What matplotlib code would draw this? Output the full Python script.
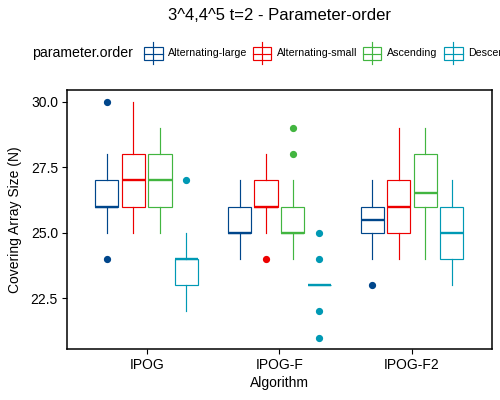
import matplotlib
matplotlib.use('Agg')

import matplotlib.pyplot as plt
from matplotlib.lines import Line2D
from matplotlib.patches import Rectangle

plt.rcParams['font.family'] = ['Liberation Sans', 'DejaVu Sans']

# ================================================================
# DATA (box summaries)
# ================================================================
algorithms = ['IPOG', 'IPOG-F', 'IPOG-F2']
orders = ['Alternating-large', 'Alternating-small', 'Ascending', 'Descending']
colors = ['#00468B', '#ED0000', '#42B540', '#0099B4']

# one row per parameter order, one value per algorithm
whisker_low = [[25, 24, 24], [25, 25, 24], [25, 24, 24], [22, 23, 23]]
q1 = [[26, 25, 25], [26, 26, 25], [26, 25, 26], [23, 23, 24]]
median = [[26, 25, 25.5], [27, 26, 26], [27, 25, 26.5], [24, 23, 25]]
q3 = [[27, 26, 26], [28, 27, 27], [28, 26, 28], [24, 23, 26]]
whisker_high = [[28, 27, 27], [30, 28, 29], [29, 27, 29], [25, 23, 27]]
outliers = [
    [[30, 24], [], [23]],
    [[], [24], []],
    [[], [28, 29], []],
    [[27], [21, 22, 24, 25], []],
]

y_ticks = [22.5, 25.0, 27.5, 30.0]

# ================================================================
# PLOT
# ================================================================
W, H = 500, 400
fig = plt.figure(figsize=(5, 4), dpi=100)
ax = fig.add_axes([67 / W, 1 - 349.3 / H, 424.7 / W, 259.3 / H])

dodge = 0.2
box_w = 0.175
for k, (order, c) in enumerate(zip(orders, colors)):
    stats = []
    for i in range(len(algorithms)):
        stats.append(dict(whislo=whisker_low[k][i], q1=q1[k][i], med=median[k][i],
                          q3=q3[k][i], whishi=whisker_high[k][i],
                          fliers=outliers[k][i]))
    pos = [i + 1 + (k - 1.5) * dodge for i in range(len(algorithms))]
    ax.bxp(stats, positions=pos, widths=box_w, patch_artist=True, showcaps=False,
           manage_ticks=False,
           boxprops=dict(facecolor='white', edgecolor=c, linewidth=0.85),
           medianprops=dict(color=c, linewidth=1.7, solid_capstyle='butt'),
           whiskerprops=dict(color=c, linewidth=0.85),
           flierprops=dict(marker='o', markerfacecolor=c, markeredgecolor=c,
                           markersize=4.2, linestyle='none'))

ax.set_xlim(0.4, 3.6)
ax.set_ylim(20.55, 30.45)
ax.set_xticks(range(1, len(algorithms) + 1))
ax.set_xticklabels(algorithms)
ax.set_yticks(y_ticks)
ax.set_yticklabels([f'{v:.1f}' for v in y_ticks])
ax.tick_params(labelsize=10, length=3.6, width=0.8, pad=2.9, colors='black')
for s in ax.spines.values():
    s.set_color('black')
    s.set_linewidth(1.1)

ax.set_xlabel('Algorithm', fontsize=10)
ax.set_ylabel('Covering Array Size (N)', fontsize=10)
ax.xaxis.label.set_va('center')
ax.yaxis.label.set_va('center')
ax.xaxis.set_label_coords(0.5, -0.130)
ax.yaxis.set_label_coords(-0.122, 0.5)

fig.text(279 / W, 1 - 15 / H, '3^4,4^5 t=2 - Parameter-order', fontsize=12,
         ha='center', va='center')

# legend along the top, boxplot glyphs drawn by hand
ly = 53.5
fig.text(32 / W, 1 - ly / H, 'parameter.order', fontsize=10.2, ha='left', va='center')
key_x = [144, 252.7, 362.7, 444]
for kx, order, c in zip(key_x, orders, colors):
    kw = 18.7
    fig.add_artist(Line2D([(kx + kw / 2) / W] * 2, [1 - 42 / H, 1 - 64 / H],
                          transform=fig.transFigure, color=c, lw=0.85))
    fig.add_artist(Rectangle((kx / W, 1 - 60 / H), kw / W, 13 / H,
                             transform=fig.transFigure, facecolor='white',
                             edgecolor=c, lw=0.85))
    fig.add_artist(Line2D([kx / W, (kx + kw) / W], [1 - ly / H] * 2,
                          transform=fig.transFigure, color=c, lw=0.85))
    fig.text((kx + kw + 5.5) / W, 1 - ly / H, order, fontsize=7.7,
             ha='left', va='center')

plt.savefig('out.png', dpi=100)
plt.close()
